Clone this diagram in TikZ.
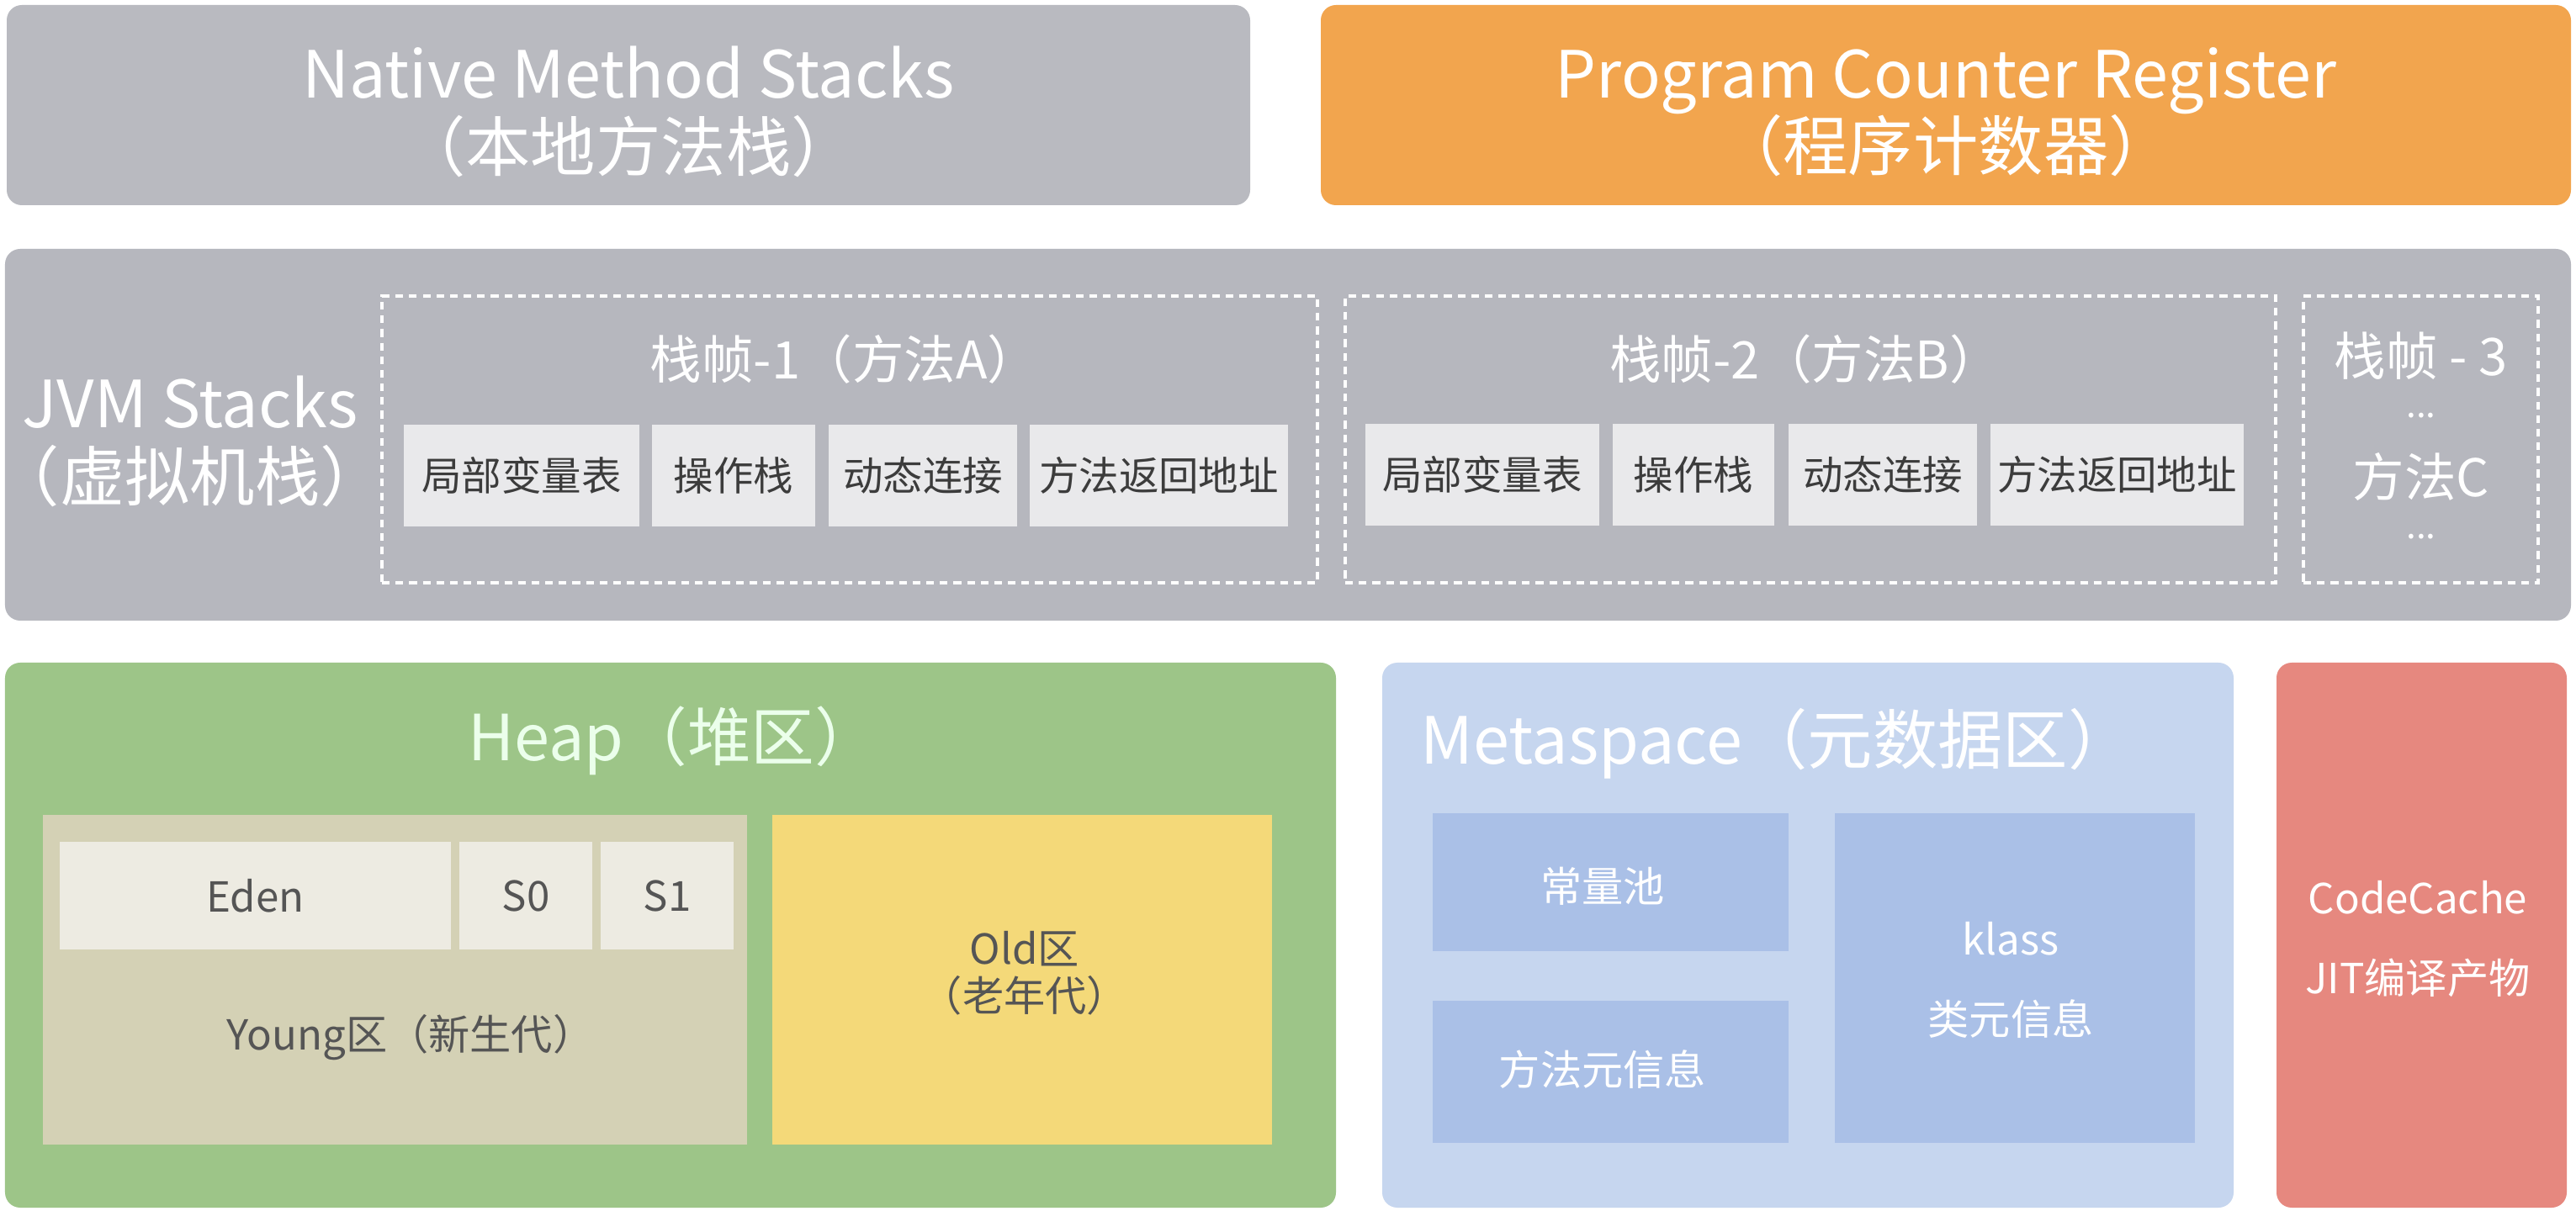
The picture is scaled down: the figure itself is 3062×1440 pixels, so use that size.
\documentclass[tikz,border=0pt]{standalone}
\usepackage{fontspec}
\setmainfont{Noto Sans CJK SC}
\usetikzlibrary{fit}
\definecolor{gtop}{HTML}{B9BAC0}
\definecolor{orng}{HTML}{F2A54E}
\definecolor{gjvm}{HTML}{B6B7BE}
\definecolor{cellc}{HTML}{E9E9EB}
\definecolor{heapg}{HTML}{9DC588}
\definecolor{youngc}{HTML}{D4D1B5}
\definecolor{edenc}{HTML}{EDEBE2}
\definecolor{oldc}{HTML}{F4D979}
\definecolor{metac}{HTML}{C6D6EF}
\definecolor{metain}{HTML}{AAC0E7}
\definecolor{codec}{HTML}{E6887F}
\definecolor{dtext}{HTML}{3C3C3C}
\definecolor{mtext}{HTML}{555555}
\tikzset{
  panel/.style={inner sep=0pt, outer sep=0pt, rounded corners=0.18cm},
  plain/.style={inner sep=0pt, outer sep=0pt},
  bigtxt/.style={text=white, align=center, font=\fontsize{22}{24.5}\selectfont},
  titletxt/.style={text=white, font=\fontsize{21.5}{24}\selectfont},
  frametxt/.style={text=white, font=\fontsize{17.5}{20}\selectfont},
  dots/.style={text=white, font=\fontsize{12}{14}\selectfont},
  cellbox/.style={plain, fill=cellc},
  celltxt/.style={text=dtext, font=\fontsize{13.5}{16}\selectfont},
  framebox/.style={plain, draw=white, line width=1.1pt, dash pattern=on 2.6pt off 2pt},
  heaptxt/.style={text=mtext, align=center, font=\fontsize{14}{16}\selectfont},
  metabox/.style={plain, fill=metain},
  metatxt/.style={text=white, align=center, font=\fontsize{14}{27}\selectfont},
}
\begin{document}
\begin{tikzpicture}[x=0.01cm, y=-0.01cm]
\fill[white] (0,0) rectangle (3062,1440);
\useasboundingbox (0,0) rectangle (3062,1440);

% top row
\node[panel, fill=gtop, fit={(8,6) (1486,244)}] (nms) {};
\node[bigtxt] (nmst) at (747,133) {Native Method Stacks\\（本地方法栈）};
\node[panel, fill=orng, fit={(1570,6) (3056,244)}] (pcr) {};
\node[bigtxt] (pcrt) at (2313,133) {Program Counter Register\\（程序计数器）};

% JVM stacks
\node[panel, fill=gjvm, fit={(6,296) (3056,738)}] (jvm) {};
\node[bigtxt] (jvmlabel) at (226,525) {JVM Stacks\\（虚拟机栈）};

\node[framebox, fit={(454,352) (1566,693)}] (f1) {};
\node[frametxt] (f1t) at (1004,427) {栈帧-1（方法A）};
\node[cellbox, fit={(480,505) (760,626)}] (c11) {};
\node[cellbox, fit={(775,505) (969,626)}] (c12) {};
\node[cellbox, fit={(985,505) (1209,626)}] (c13) {};
\node[cellbox, fit={(1224,505) (1531,626)}] (c14) {};
\node[celltxt] at (c11) {局部变量表};
\node[celltxt] at (c12) {操作栈};
\node[celltxt] at (c13) {动态连接};
\node[celltxt] at (c14) {方法返回地址};

\node[framebox, fit={(1599,352) (2705,693)}] (f2) {};
\node[frametxt] (f2t) at (2146,427) {栈帧-2（方法B）};
\node[cellbox, fit={(1623,504) (1901,625)}] (c21) {};
\node[cellbox, fit={(1917,504) (2109,625)}] (c22) {};
\node[cellbox, fit={(2126,504) (2350,625)}] (c23) {};
\node[cellbox, fit={(2366,504) (2667,625)}] (c24) {};
\node[celltxt] at (c21) {局部变量表};
\node[celltxt] at (c22) {操作栈};
\node[celltxt] at (c23) {动态连接};
\node[celltxt] at (c24) {方法返回地址};

\node[framebox, fit={(2738,352) (3017,693)}] (f3) {};
\node[frametxt] (f3a) at (2878,423) {栈帧 - 3};
\node[dots] (f3b) at (2878,494) {...};
\node[frametxt] (f3c) at (2878,567) {方法C};
\node[dots] (f3d) at (2878,638) {...};

% Heap
\node[panel, fill=heapg, fit={(6,788) (1588,1436)}] (heap) {};
\node[titletxt, text=white!92!green] (heapt) at (800,881) {Heap（堆区）};
\node[plain, fill=youngc, fit={(51,969) (888,1361)}] (young) {};
\node[plain, fill=edenc, fit={(71,1001) (536,1129)}] (eden) {};
\node[plain, fill=edenc, fit={(546,1001) (704,1129)}] (s0) {};
\node[plain, fill=edenc, fit={(714,1001) (872,1129)}] (s1) {};
\node[heaptxt] at (eden) {Eden};
\node[heaptxt] at (s0) {S0};
\node[heaptxt] at (s1) {S1};
\node[heaptxt] (youngt) at (488,1234) {Young区（新生代）};
\node[plain, fill=oldc, fit={(918,969) (1512,1361)}] (old) {};
\node[heaptxt] (oldt) at (1218,1157) {Old区\\（老年代）};

% Metaspace
\node[panel, fill=metac, fit={(1643,788) (2655,1436)}] (meta) {};
\node[titletxt, font=\fontsize{22}{24}\selectfont] (metat) at (2112,884) {Metaspace（元数据区）};
\node[metabox, fit={(1703,967) (2126,1131)}] (pool) {};
\node[metabox, fit={(1703,1190) (2126,1359)}] (mmeta) {};
\node[metabox, fit={(2181,967) (2609,1359)}] (klass) {};
\node[metatxt] at (1905,1054) {常量池};
\node[metatxt] at (1905,1272) {方法元信息};
\node[metatxt] at (2390,1165) {klass\\类元信息};

% CodeCache
\node[panel, fill=codec, fit={(2706,788) (3051,1436)}] (cc) {};
\node[metatxt] (cct) at (2874,1117) {CodeCache\\JIT编译产物};
\end{tikzpicture}
\end{document}
